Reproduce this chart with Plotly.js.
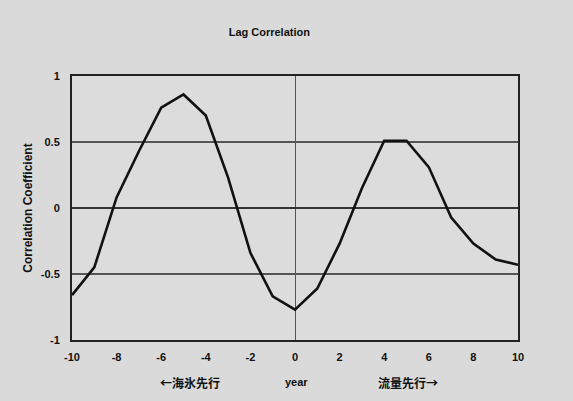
<!DOCTYPE html>
<html><head><meta charset="utf-8">
<script src="https://cdn.plot.ly/plotly-3.0.1.min.js"></script>
<style>html,body{margin:0;padding:0;background:#dadada;}</style>
</head><body>
<div id="chart" style="width:573px;height:401px;"></div>
<script>
const lagYears = [-10,-9,-8,-7,-6,-5,-4,-3,-2,-1,0,1,2,3,4,5,6,7,8,9,10];
const correlation = [-0.66,-0.45,0.08,0.43,0.76,0.86,0.70,0.23,-0.34,-0.67,-0.77,-0.61,-0.27,0.15,0.51,0.51,0.31,-0.07,-0.27,-0.39,-0.43];
const xTicks = [-10,-8,-6,-4,-2,0,2,4,6,8,10];
const yTicks = [-1,-0.5,0,0.5,1];
const yTickText = ['-1','-0.5','0','0.5','1'];

const font = {family:'Liberation Sans, Arial, sans-serif', color:'#111', size:11};
const trace = {x:lagYears, y:correlation, type:'scatter', mode:'lines',
  line:{color:'#111', width:2.6}, hoverinfo:'skip'};

const layout = {
  width:573, height:401,
  margin:{l:72, r:55, t:76, b:61},
  paper_bgcolor:'#dadada', plot_bgcolor:'#dcdcdc',
  showlegend:false,
  font:font,
  title:{text:'<b>Lag Correlation</b>', x:0.47, xanchor:'center', y:0.92, yanchor:'middle',
    font:{family:'Liberation Sans, Arial, sans-serif', size:11, color:'#111'}},
  xaxis:{range:[-10,10], tickvals:xTicks, ticktext:xTicks.map(String), showgrid:false, zeroline:true,
    zerolinecolor:'#555', zerolinewidth:1, showline:true, linecolor:'#222', linewidth:2, mirror:true,
    ticks:'', ticklabelstandoff:6, tickfont:{family:'Liberation Sans, Arial, sans-serif', size:11, color:'#111', weight:'bold'}},
  yaxis:{range:[-1,1], tickvals:yTicks, ticktext:yTickText, showgrid:true, gridcolor:'#555', gridwidth:1.2,
    zeroline:true, zerolinecolor:'#333', zerolinewidth:1.5, showline:true, linecolor:'#222', linewidth:2, mirror:true,
    ticks:'', ticklabelstandoff:8, tickfont:{family:'Liberation Sans, Arial, sans-serif', size:11, color:'#111', weight:'bold'},
    title:{text:'<b>Correlation Coefficient</b>', standoff:6, font:{family:'Liberation Sans, Arial, sans-serif', size:12, color:'#111'}}},
  annotations:[
    {text:'<b>←海氷先行</b>', xref:'x', yref:'paper', x:-4.7, y:-0.16, showarrow:false, yanchor:'middle',
     font:{family:'Noto Sans CJK JP', size:12, color:'#111'}},
    {text:'<b>year</b>', xref:'x', yref:'paper', x:0.05, y:-0.16, showarrow:false, yanchor:'middle',
     font:{family:'Liberation Sans, Arial, sans-serif', size:11, color:'#111'}},
    {text:'<b>流量先行→</b>', xref:'x', yref:'paper', x:5.07, y:-0.16, showarrow:false, yanchor:'middle',
     font:{family:'Noto Sans CJK JP', size:12, color:'#111'}}
  ]
};
Plotly.newPlot('chart',[trace],layout,{displayModeBar:false, staticPlot:true});
</script>
</body></html>
